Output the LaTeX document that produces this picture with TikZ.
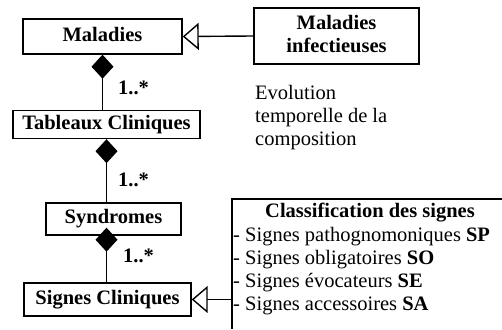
\documentclass[tikz,border=0pt]{standalone}
\usepackage{fontspec}
\setmainfont{Liberation Serif}
\usetikzlibrary{arrows.meta}
\begin{document}
\begin{tikzpicture}[x=1pt,y=-1pt,
  box/.style={draw,line width=1.4pt,font=\fontsize{20.5}{23}\selectfont\bfseries,inner sep=0pt,align=center,text depth=5pt},
  mult/.style={font=\fontsize{20.5}{23}\selectfont\bfseries,inner sep=0pt,anchor=west},
  txt/.style={font=\fontsize{20.5}{23}\selectfont,inner sep=0pt,align=left,anchor=west},
  comp/.style={line width=1.4pt,{Diamond[length=24pt,width=22pt]}-},
  gen/.style={line width=1.4pt,-{Triangle[open,length=16pt,width=27pt,line width=1.4pt]}},
  border/.style={line width=1.4pt},
]
\useasboundingbox (0,0) rectangle (502,329);
% class boxes
\node[box,minimum width=159pt,minimum height=35pt] (mal) at (102.5,36.5) {Maladies};
\node[box,minimum width=165pt,minimum height=56pt] (malinf) at (336.5,36) {Maladies\\infectieuses};
\node[box,minimum width=187pt,minimum height=28pt] (tab) at (106.5,124.5) {Tableaux Cliniques};
\node[box,minimum width=135pt,minimum height=32pt] (syn) at (113.5,219) {Syndromes};
\node[box,minimum width=167pt,minimum height=33pt] (sig) at (107.5,299.5) {Signes Cliniques};
% multiplicities
\node[mult] (m1) at (118,88) {1..*};
\node[mult] (m2) at (118,180) {1..*};
\node[mult] (m3) at (123,256) {1..*};
% compositions
\draw[comp] (mal.south) -- (mal.south |- tab.north);
\draw[comp] (tab.south) -- (tab.south |- syn.north);
\coordinate (d3) at ([yshift=8pt]tab.south |- syn.south);
\draw[comp] (d3) -- (d3 |- sig.north);
% generalization
\draw[gen] (malinf.west) -- (mal.east);
% classification box (cut by the picture's edges)
\coordinate (clsbl) at (232,329);
\coordinate (clstl) at (232,199);
\coordinate (clstr) at (502,199);
\draw[border] (clsbl) -- (clstl) -- (clstr);
\coordinate (clsin) at (232,299.5);
\draw[gen] (clsin) -- (sig.east);
\node[font=\fontsize{20.5}{23}\selectfont\bfseries,inner sep=0pt] (clst) at (370,213) {Classification des signes};
\node[txt] (clsl) at (233,271) {- Signes pathognomoniques \textbf{SP}\\- Signes obligatoires \textbf{SO}\\- Signes évocateurs \textbf{SE}\\- Signes accessoires \textbf{SA}};
% note
\node[txt] (evo) at (255,118) {Evolution\\temporelle de la\\composition};
\end{tikzpicture}
\end{document}
